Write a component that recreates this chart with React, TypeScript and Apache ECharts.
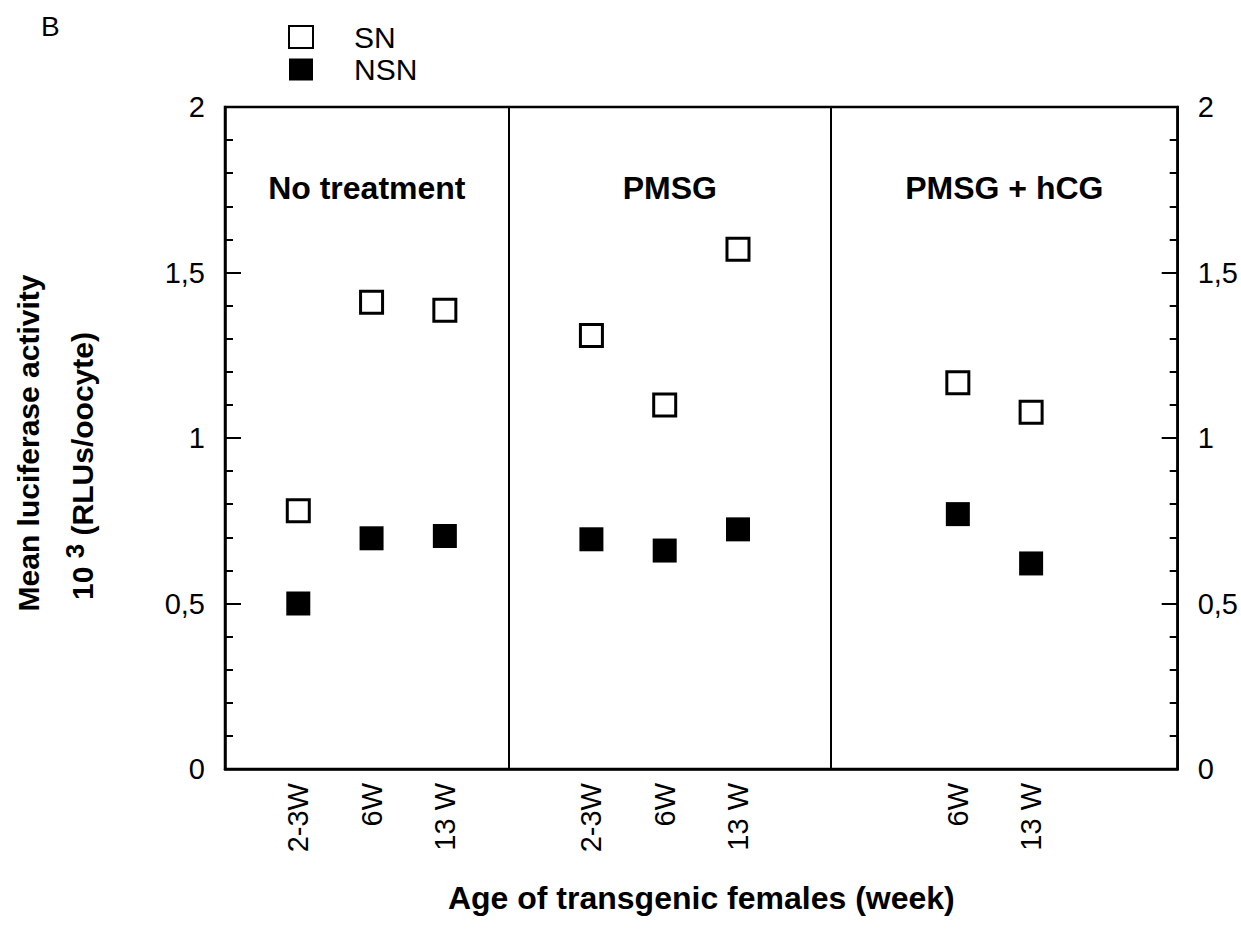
import React, { useEffect, useRef } from "react";
import * as echarts from "echarts";

const ageLabels = ["2-3W", "6W", "13 W", "2-3W", "6W", "13 W", "6W", "13 W"];
const xSlots = [1, 2, 3, 5, 6, 7, 10, 11];
const snValues = [0.78, 1.41, 1.386, 1.31, 1.1, 1.57, 1.167, 1.078];
const nsnValues = [0.5, 0.697, 0.704, 0.694, 0.66, 0.724, 0.77, 0.621];
const groupNames = ["No treatment", "PMSG", "PMSG + hCG"];
const groupBounds = [0, 3.87, 8.27, 13];
const titleLevel = 1.755;
const yTicks = [0, 0.5, 1, 1.5, 2];

const FONT = "'Liberation Sans', Arial, Helvetica, sans-serif";

export default function App() {
  const ref = useRef<HTMLDivElement>(null);
  useEffect(() => {
    if (!ref.current) return;
    const chart = echarts.init(ref.current, null, { renderer: "svg" });
    const fmtY = (v: number) => (yTicks.includes(v) ? String(v).replace(".", ",") : "");
    const yAxisBase = {
      type: "value",
      min: 0,
      max: 2,
      interval: 0.5,
      axisLine: { show: true, lineStyle: { color: "#000", width: 2.5 } },
      axisTick: { show: true, inside: true, length: 16, lineStyle: { color: "#000", width: 2 } },
      minorTick: { show: true, splitNumber: 5, length: 8, lineStyle: { color: "#000", width: 2 } },
      splitLine: { show: false },
      minorSplitLine: { show: false },
      axisLabel: { color: "#000", fontSize: 29, fontFamily: FONT, margin: 20, formatter: fmtY },
    };
    const titleData = groupNames.map((n, i) => ({
      value: [(groupBounds[i] + groupBounds[i + 1]) / 2, titleLevel],
      name: n,
    }));
    const nameBold = { fontSize: 30, fontWeight: "bold", lineHeight: 54, fontFamily: FONT, color: "#000" };
    const option = {
      animation: false,
      backgroundColor: "#fff",
      textStyle: { fontFamily: FONT },
      title: {
        text: "B",
        left: 41,
        top: 12,
        padding: 0,
        textStyle: { fontSize: 28, fontWeight: "normal", fontFamily: FONT, color: "#000" },
      },
      grid: {
        left: 225,
        right: 62,
        top: 107,
        bottom: 168,
        show: true,
        borderColor: "#000",
        borderWidth: 2.5,
        backgroundColor: "transparent",
      },
      legend: {
        data: ["SN", "NSN"],
        orient: "vertical",
        left: 288,
        top: 22,
        padding: 0,
        itemWidth: 24,
        itemHeight: 22,
        itemGap: 2.5,
        textStyle: {
          color: "#000",
          fontSize: 30,
          fontFamily: FONT,
          lineHeight: 22,
          padding: [0, 0, 0, 36],
        },
      },
      xAxis: {
        type: "value",
        min: groupBounds[0],
        max: groupBounds[groupBounds.length - 1],
        interval: 1,
        name: "Age of transgenic females (week)",
        nameLocation: "middle",
        nameGap: 113,
        nameTextStyle: { color: "#000", fontSize: 32, fontWeight: "bold", fontFamily: FONT },
        axisLine: { show: true, lineStyle: { color: "#000", width: 2.5 } },
        axisTick: { show: false },
        splitLine: { show: false },
        axisLabel: {
          rotate: 90,
          color: "#000",
          fontSize: 29,
          fontFamily: FONT,
          margin: 14,
          showMinLabel: false,
          showMaxLabel: false,
          formatter: (v: number) => {
            const i = xSlots.indexOf(v);
            return i >= 0 ? ageLabels[i] : "";
          },
        },
      },
      yAxis: [
        {
          ...yAxisBase,
          position: "left",
          name: "{a|Mean luciferase activity}\n{b|10 }{s|3}{c| (RLUs/oocyte)}",
          nameLocation: "middle",
          nameRotate: 90,
          nameGap: 116,
          nameTextStyle: {
            color: "#000",
            fontFamily: FONT,
            rich: {
              a: { ...nameBold, padding: [0, 10, 0, 0] },
              b: { ...nameBold },
              c: { ...nameBold, padding: [0, 56, 0, 0] },
              s: { fontSize: 26, fontWeight: "bold", fontFamily: FONT, color: "#000", padding: [0, 0, 14, 0] },
            },
          },
        },
        { ...yAxisBase, position: "right" },
      ],
      series: [
        {
          name: "SN",
          type: "scatter",
          symbol: "rect",
          symbolSize: 22,
          itemStyle: { color: "#fff", borderColor: "#000", borderWidth: 3, opacity: 1 },
          data: xSlots.map((x, i) => [x, snValues[i]]),
          z: 3,
        },
        {
          name: "NSN",
          type: "scatter",
          symbol: "rect",
          symbolSize: 24,
          itemStyle: { color: "#000", opacity: 1 },
          data: xSlots.map((x, i) => [x, nsnValues[i]]),
          z: 3,
        },
        {
          name: "groups",
          type: "scatter",
          symbolSize: 0,
          silent: true,
          itemStyle: { opacity: 1, color: "#000" },
          data: titleData,
          label: {
            show: true,
            position: "inside",
            formatter: (p: any) => p.name,
            color: "#000",
            fontSize: 32,
            fontWeight: "bold",
            fontFamily: FONT,
          },
          markLine: {
            silent: true,
            symbol: ["none", "none"],
            label: { show: false },
            lineStyle: { color: "#000", width: 2, type: "solid", opacity: 1 },
            data: groupBounds.slice(1, -1).map((b) => ({ xAxis: b })),
          },
        },
      ],
    };
    chart.setOption(option as any);
    return () => chart.dispose();
  }, []);
  return <div ref={ref} style={{ width: 1241, height: 937, position: "absolute", left: 0, top: 0 }} />;
}
